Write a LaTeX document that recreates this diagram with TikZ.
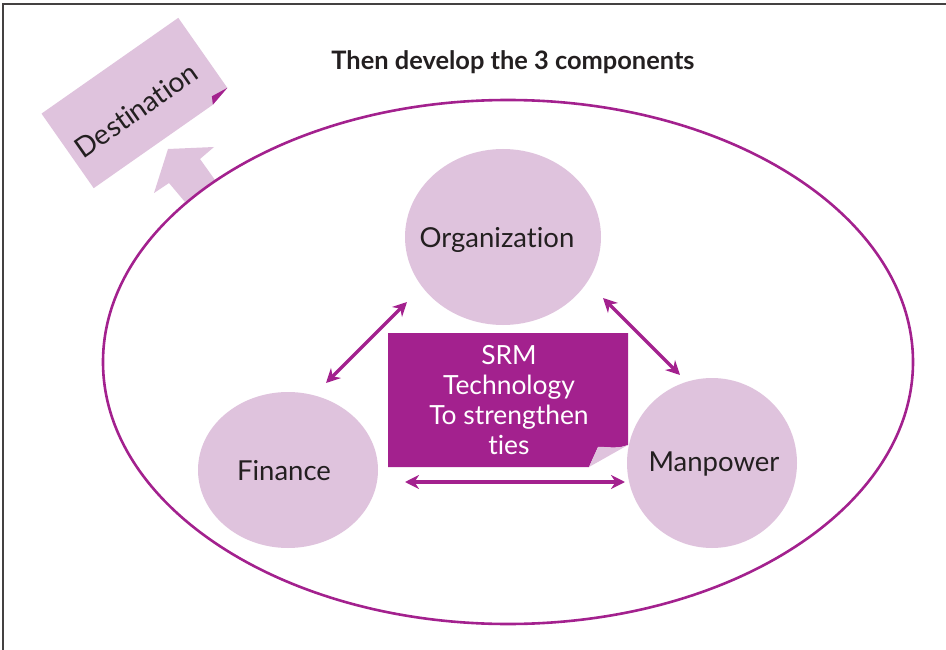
\documentclass[tikz,border=0pt]{standalone}
\usepackage{fontspec}
\setmainfont{Lato}[Ligatures=NoCommon]
\usetikzlibrary{shapes.geometric,arrows.meta}
\definecolor{lilac}{HTML}{DFC3DD}
\definecolor{plum}{HTML}{A3218E}
\definecolor{ink}{HTML}{231F20}
\tikzset{
  blob/.style={ellipse,fill=lilac,inner sep=0pt},
  lbl/.style={text=ink,font=\fontsize{27.5}{30}\selectfont},
  dbl/.style={draw=plum,line width=3.2pt,{Stealth[length=14pt,width=14pt]}-{Stealth[length=14pt,width=14pt]}},
  frameline/.style={draw=ink!85,line width=1.6pt}
}
\begin{document}
\begin{tikzpicture}[x=1pt,y=-1pt]
\useasboundingbox (0,0) rectangle (946,650);
% frame
\draw[frameline] (3,650) -- (3,4) -- (946,4);
% title
\node[font=\bfseries\fontsize{25.4}{28}\selectfont,text=ink] (title) at (513,62) {Then develop the 3 components};
% block arrow toward destination
\fill[lilac] (215,180) -- (200,159) -- (214,147) -- (168,149) -- (154,193) -- (169,183) -- (185,202) -- cycle;
% destination note
\begin{scope}[shift={(136,103)},rotate=35,y=1pt]
  \fill[lilac] (-83.5,45.5) -- (83.5,45.5) -- (83.5,-40) -- (62,-45.5) -- (-83.5,-45.5) -- cycle;
  \fill[plum] (83.5,-40) -- (62,-45.5) -- (66,-38) -- cycle;
  \node[lbl,rotate=35,inner sep=0pt,font=\fontsize{28}{30}\selectfont] (dest) at (-4,-6) {Destination};
\end{scope}
% big ellipse
\draw[plum,line width=2.6pt] (508,362) ellipse [x radius=405,y radius=262];
% components
\node[blob,minimum width=196pt,minimum height=176pt] (org) at (503,237) {};
\node[lbl] (orgt) at (497,240) {Organization};
\node[blob,minimum width=180pt,minimum height=156pt] (fin) at (288,470) {};
\node[lbl] (fint) at (284,471) {Finance};
\node[blob,minimum width=170pt,minimum height=170pt] (man) at (712,463) {};
\node[lbl] (mant) at (714,464) {Manpower};
% SRM box
\fill[plum] (388,333) -- (628,333) -- (628,445) .. controls (615,450) and (605,446) .. (598,447) -- (589,467) -- (388,467) -- cycle;
\fill[lilac] (628,445) .. controls (615,450) and (605,446) .. (598,447) -- (589,467) -- cycle;
\node[text=white,align=center,font=\fontsize{26.4}{30}\selectfont] (srm) at (509,400) {SRM\\Technology\\To strengthen\\ties};
% connectors
\coordinate (a1) at (407,302); \coordinate (a2) at (326,383);
\coordinate (b1) at (603,298); \coordinate (b2) at (680,375);
\coordinate (c1) at (405,482); \coordinate (c2) at (625,482);
\draw[dbl] (a1) -- (a2);
\draw[dbl] (b1) -- (b2);
\draw[dbl] (c1) -- (c2);
\end{tikzpicture}
\end{document}
